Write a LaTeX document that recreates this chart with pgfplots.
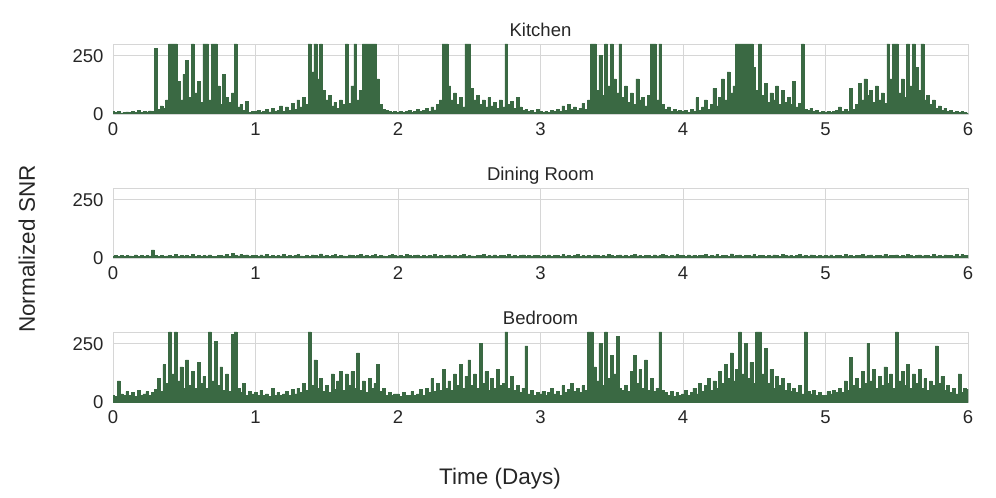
\documentclass[border=0pt]{standalone}
\usepackage{fontspec}
\setmainfont{Liberation Sans}
\setsansfont{Liberation Sans}
\usepackage{pgfplots}
\usepackage{pgfplotstable}
\pgfplotsset{compat=1.18}

\definecolor{snr}{RGB}{58,105,67}
\definecolor{gridc}{RGB}{214,214,214}
\definecolor{txt}{RGB}{38,38,38}

% columns: time (days), kitchen, dining room, bedroom
\pgfplotstableread{
x k d b
0.00 12 8 30
0.02 8 12 25
0.04 10 6 90
0.06 5 10 35
0.08 6 7 28
0.10 9 11 45
0.12 7 9 30
0.14 12 6 40
0.16 8 13 25
0.18 14 8 50
0.20 6 10 30
0.22 10 7 35
0.24 9 12 45
0.26 13 9 28
0.28 11 35 40
0.30 280 10 55
0.32 20 8 100
0.34 35 12 45
0.36 25 7 160
0.38 60 9 80
0.40 300 11 300
0.42 300 6 120
0.44 300 14 300
0.46 140 8 90
0.48 60 10 150
0.50 170 9 60
0.52 230 12 180
0.54 70 7 70
0.56 300 15 130
0.58 90 8 60
0.60 140 10 170
0.62 50 6 80
0.64 300 11 110
0.66 300 9 60
0.68 60 13 300
0.70 300 8 90
0.72 300 7 260
0.74 120 12 70
0.76 40 10 150
0.78 170 9 50
0.80 70 14 120
0.82 50 8 45
0.84 90 20 290
0.86 300 11 300
0.88 30 9 60
0.90 40 16 40
0.92 15 10 80
0.94 55 13 30
0.96 8 9 45
0.98 12 12 35
1.00 10 10 40
1.02 15 7 30
1.04 8 13 50
1.06 12 9 28
1.08 20 16 35
1.10 9 8 25
1.12 25 11 60
1.14 10 6 30
1.16 14 12 40
1.18 35 9 28
1.20 12 14 35
1.22 30 7 45
1.24 15 10 30
1.26 45 8 55
1.28 20 12 35
1.30 60 15 60
1.32 30 9 40
1.34 70 6 80
1.36 40 11 50
1.38 300 8 300
1.40 180 13 70
1.42 300 10 180
1.44 150 7 60
1.46 300 18 100
1.48 100 9 45
1.50 60 12 70
1.52 80 8 40
1.54 35 10 120
1.56 50 14 55
1.58 25 6 90
1.60 60 11 130
1.62 40 9 50
1.64 300 7 120
1.66 45 13 70
1.68 120 10 130
1.70 300 8 60
1.72 60 12 210
1.74 100 16 50
1.76 300 9 90
1.78 300 11 40
1.80 300 7 100
1.82 300 10 60
1.84 300 14 80
1.86 150 8 160
1.88 40 12 45
1.90 20 9 60
1.92 15 6 30
1.94 10 11 40
1.96 8 15 28
1.98 12 10 35
2.00 8 9 35
2.02 12 12 25
2.04 6 8 40
2.06 10 14 30
2.08 15 10 28
2.10 8 7 45
2.12 12 11 30
2.14 20 13 35
2.16 10 8 55
2.18 15 10 30
2.20 25 6 60
2.22 12 12 40
2.24 30 9 100
2.26 18 15 45
2.28 40 8 80
2.30 60 11 50
2.32 300 7 140
2.34 300 10 60
2.36 120 13 90
2.38 60 9 50
2.40 90 12 120
2.42 40 6 70
2.44 70 10 160
2.46 30 14 60
2.48 300 8 110
2.50 300 11 180
2.52 110 9 70
2.54 60 7 120
2.56 80 12 60
2.58 40 10 250
2.60 60 16 80
2.62 30 8 130
2.64 70 11 50
2.66 35 9 100
2.68 50 13 60
2.70 25 7 140
2.72 60 10 70
2.74 30 12 80
2.76 300 8 300
2.78 40 14 60
2.80 55 9 110
2.82 25 11 50
2.84 70 6 70
2.86 30 10 40
2.88 15 13 60
2.90 20 8 240
2.92 10 12 35
2.94 15 9 50
2.96 8 11 30
2.98 20 10 40
3.00 10 8 35
3.02 6 11 45
3.04 12 9 30
3.06 8 13 40
3.08 15 7 60
3.10 10 10 35
3.12 20 12 45
3.14 12 8 30
3.16 35 14 70
3.18 15 9 40
3.20 40 11 55
3.22 20 7 80
3.24 30 10 45
3.26 15 15 60
3.28 25 8 40
3.30 45 12 70
3.32 20 9 50
3.34 60 11 300
3.36 300 6 300
3.38 300 13 150
3.40 100 10 90
3.42 250 8 250
3.44 80 12 70
3.46 300 9 300
3.48 120 16 100
3.50 300 11 200
3.52 150 7 120
3.54 90 10 280
3.56 300 13 60
3.58 70 9 50
3.60 120 12 70
3.62 50 8 45
3.64 90 10 130
3.66 40 14 200
3.68 150 9 80
3.70 60 11 140
3.72 70 7 60
3.74 35 12 180
3.76 80 10 50
3.78 300 8 100
3.80 300 13 45
3.82 60 9 60
3.84 300 11 300
3.86 40 15 50
3.88 20 10 40
3.90 30 8 30
3.92 12 12 45
3.94 20 9 25
3.96 10 14 40
3.98 15 10 30
4.00 10 10 35
4.02 15 8 50
4.04 8 13 30
4.06 20 9 40
4.08 12 11 60
4.10 70 7 35
4.12 15 12 80
4.14 30 10 45
4.16 60 15 70
4.18 20 8 100
4.20 40 11 50
4.22 110 9 90
4.24 35 14 60
4.26 70 7 130
4.28 150 10 80
4.30 60 12 160
4.32 180 8 100
4.34 90 18 210
4.36 120 9 90
4.38 300 11 140
4.40 300 13 300
4.42 300 8 120
4.44 300 10 250
4.46 300 12 100
4.48 300 9 170
4.50 200 14 80
4.52 100 7 300
4.54 300 11 300
4.56 80 10 120
4.58 130 8 230
4.60 50 12 80
4.62 90 9 140
4.64 60 13 60
4.66 120 10 110
4.68 40 7 70
4.70 100 15 100
4.72 50 11 50
4.74 70 9 80
4.76 40 12 45
4.78 140 8 60
4.80 30 10 40
4.82 45 14 70
4.84 300 9 35
4.86 20 11 300
4.88 15 7 45
4.90 25 13 35
4.92 10 10 50
4.94 15 8 30
4.96 8 12 40
4.98 12 9 28
5.00 8 11 30
5.02 12 9 45
5.04 6 13 35
5.06 10 8 50
5.08 15 10 40
5.10 30 12 60
5.12 10 7 40
5.14 20 14 90
5.16 12 9 50
5.18 110 11 190
5.20 20 8 70
5.22 40 12 100
5.24 130 10 60
5.26 60 15 130
5.28 150 9 80
5.30 80 11 250
5.32 100 13 90
5.34 50 8 140
5.36 120 10 60
5.38 60 12 110
5.40 90 9 70
5.42 45 16 150
5.44 300 8 80
5.46 150 11 120
5.48 300 10 60
5.50 300 13 300
5.52 90 7 90
5.54 150 12 130
5.56 70 9 70
5.58 300 14 160
5.60 120 10 60
5.62 300 8 120
5.64 200 11 80
5.66 100 13 140
5.68 300 9 60
5.70 60 12 100
5.72 80 10 50
5.74 40 7 90
5.76 60 15 70
5.78 25 9 240
5.80 35 11 80
5.82 15 8 110
5.84 25 13 50
5.86 10 10 70
5.88 15 12 40
5.90 8 9 60
5.92 12 14 35
5.94 6 8 120
5.96 10 16 40
5.98 8 11 60
6.00 5 12 55
}\snrdata

\pgfplotsset{
  panel/.style={
    scale only axis,
    width=855pt, height=70pt,
    xmin=0, xmax=6, ymin=0, ymax=300,
    xtick={0,1,2,3,4,5,6}, ytick={0,250},
    grid=major,
    major grid style={draw=gridc, line width=0.9pt},
    axis line style={draw=gridc, line width=0.9pt},
    major tick length=0pt,
    tick style={draw=none},
    /pgf/number format/assume math mode=true,
    ticklabel style={font=\fontsize{18.5}{22}\selectfont, text=txt},
    xticklabel style={yshift=-5pt},
    yticklabel style={xshift=-6pt},
    every axis title shift=0pt,
    title style={font=\fontsize{18.5}{22}\selectfont, text=txt,
      at={(0.5,1)}, anchor=base, yshift=7.5pt},
  },
  snrline/.style={draw=snr, fill=snr, line width=0.5pt, const plot mark mid},
}

\begin{document}
\begin{tikzpicture}
\path[use as bounding box] (0,0) rectangle (996pt,498pt);

\begin{axis}[panel, at={(113pt,384pt)}, anchor=south west, title={Kitchen}]
\addplot[snrline] table[x=x, y=k] {\snrdata} \closedcycle;
\end{axis}

\begin{axis}[panel, at={(113pt,240pt)}, anchor=south west, title={Dining Room}]
\addplot[snrline] table[x=x, y=d] {\snrdata} \closedcycle;
\end{axis}

\begin{axis}[panel, at={(113pt,96pt)}, anchor=south west, title={Bedroom}]
\addplot[snrline] table[x=x, y=b] {\snrdata} \closedcycle;
\end{axis}

\node[anchor=base, text=txt, font=\fontsize{22.5}{26}\selectfont] at (500pt,13.5pt) {Time (Days)};
\node[anchor=base, rotate=90, text=txt, font=\fontsize{22.5}{26}\selectfont] at (35pt,249pt) {Normalized SNR};
\end{tikzpicture}
\end{document}
